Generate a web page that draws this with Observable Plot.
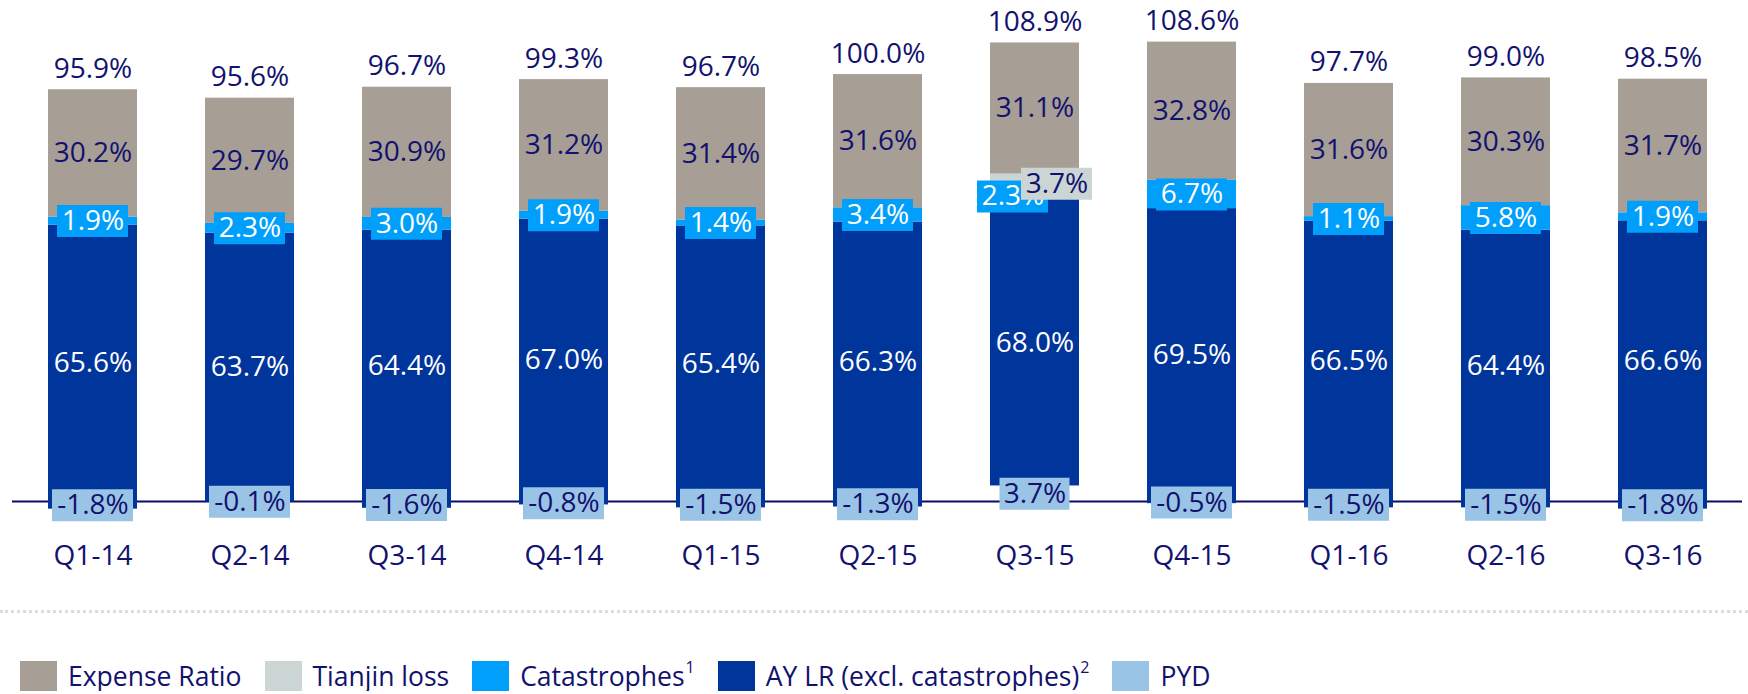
<!DOCTYPE html>
<html><head><meta charset="utf-8">
<script src="https://cdn.jsdelivr.net/npm/d3@7"></script>
<script src="https://cdn.jsdelivr.net/npm/@observablehq/plot@0.6"></script>
<style>
body{margin:0;background:#fff;font-family:"Open Sans",sans-serif;color:#12126e;}
#sep{margin-top:20px;border-top:3px dotted #dcdcdc;height:0;}
#legend{display:flex;align-items:center;margin-top:47px;margin-left:20px;font-size:26.5px;height:31px;}
.item{display:flex;align-items:center;margin-right:23px;white-space:nowrap;}
.sw{width:37px;height:30px;margin-right:11px;}
sup{font-size:16px;vertical-align:top;line-height:1;position:relative;top:1px;margin-left:1px;}
</style></head><body><div id="chart"></div><div id="sep"></div><div id="legend"></div>
<script>
const quarters = ["Q1-14","Q2-14","Q3-14","Q4-14","Q1-15","Q2-15","Q3-15","Q4-15","Q1-16","Q2-16","Q3-16"];
const expenseRatio = [30.2, 29.7, 30.9, 31.2, 31.4, 31.6, 31.1, 32.8, 31.6, 30.3, 31.7];
const tianjinLoss  = [0, 0, 0, 0, 0, 0, 3.7, 0, 0, 0, 0];
const catastrophes = [1.9, 2.3, 3.0, 1.9, 1.4, 3.4, 2.3, 6.7, 1.1, 5.8, 1.9];
const ayLR         = [65.6, 63.7, 64.4, 67.0, 65.4, 66.3, 68.0, 69.5, 66.5, 64.4, 66.6];
const pyd          = [-1.8, -0.1, -1.6, -0.8, -1.5, -1.3, 3.7, -0.5, -1.5, -1.5, -1.8];
const combinedRatio = [95.9, 95.6, 96.7, 99.3, 96.7, 100.0, 108.9, 108.6, 97.7, 99.0, 98.5];

const navy = "#12126e";
const colors = {expense:"#a79e95", tianjin:"#cad5d4", cat:"#009ffc", ay:"#00359c", pyd:"#9ac4e6"};
const FS = 28;

// stacking order bottom -> top
const series = [
  {key:"pyd", values:pyd},
  {key:"ay", values:ayLR},
  {key:"cat", values:catastrophes},
  {key:"tianjin", values:tianjinLoss},
  {key:"expense", values:expenseRatio}
];

const segments = [];
const tops = [];
quarters.forEach((q, i) => {
  let pos = 0, neg = 0;
  for (const s of series) {
    const v = s.values[i];
    let y1, y2;
    if (v >= 0) { y1 = pos; y2 = pos + v; pos = y2; } else { y1 = neg; y2 = neg + v; neg = y2; }
    segments.push({q, key:s.key, value:v, y1, y2, mid:(y1 + y2) / 2, hasTianjin: tianjinLoss[i] > 0});
  }
  tops.push({q, top:pos, total:combinedRatio[i]});
});

const fmt = v => v.toFixed(1) + "%";
const bars = segments.filter(d => !(d.key === "pyd" && d.value >= 0));
const fillOf = d => d.key === "pyd" ? colors.ay : colors[d.key];
const seg = k => segments.filter(d => d.key === k);
const catPlain = seg("cat").filter(d => !d.hasTianjin);
const catShift = seg("cat").filter(d => d.hasTianjin);
const tianjinLab = seg("tianjin").filter(d => d.value > 0);
const pydNeg = seg("pyd").filter(d => d.value < 0);
const pydPos = seg("pyd").filter(d => d.value >= 0);

const chart = Plot.plot({
  width:1748, height:590,
  marginTop:37.4, marginBottom:46.8, marginLeft:12, marginRight:6,
  style:{fontFamily:'"Open Sans", sans-serif', fontSize:FS + "px", color:navy, background:"white", overflow:"visible"},
  x:{domain:quarters, paddingInner:0.4356, paddingOuter:0.2029, label:null, tickSize:0, tickPadding:1},
  y:{domain:[-10, 110], axis:null},
  color:{type:"identity"},
  marks:[
    Plot.ruleY([0], {stroke:"#0b0b66", strokeWidth:2}),
    Plot.barY(bars, {x:"q", y1:"y1", y2:"y2", fill:fillOf}),
    // expense & AY LR labels
    Plot.text(seg("expense"), {x:"q", y:"mid", text:d => fmt(d.value), fill:navy, fontSize:FS}),
    Plot.text(seg("ay"), {x:"q", y:"mid", text:d => fmt(d.value), fill:"white", fontSize:FS}),
    // catastrophe label boxes
    Plot.tickY(catPlain, {x:"q", y:"mid", stroke:colors.cat, strokeWidth:32, insetLeft:9, insetRight:9}),
    Plot.text(catPlain, {x:"q", y:"mid", text:d => fmt(d.value), fill:"white", fontSize:FS}),
    Plot.tickY(catShift, {x:"q", y:"mid", stroke:colors.cat, strokeWidth:32, insetLeft:9, insetRight:9, dx:-22, dy:2}),
    Plot.text(catShift, {x:"q", y:"mid", text:d => fmt(d.value), fill:"white", fontSize:FS, dx:-22, dy:2}),
    // Tianjin label box
    Plot.tickY(tianjinLab, {x:"q", y:"mid", stroke:colors.tianjin, strokeWidth:32, insetLeft:9, insetRight:9, dx:22, dy:2}),
    Plot.text(tianjinLab, {x:"q", y:"mid", text:d => fmt(d.value), fill:navy, fontSize:FS, dx:22, dy:2}),
    // PYD label boxes
    Plot.tickY(pydNeg, {x:"q", y:"mid", stroke:colors.pyd, strokeWidth:32, insetLeft:4, insetRight:4}),
    Plot.text(pydNeg, {x:"q", y:"mid", text:d => fmt(d.value), fill:navy, fontSize:FS}),
    Plot.tickY(pydPos, {x:"q", y:"mid", stroke:colors.pyd, strokeWidth:32, insetLeft:9.5, insetRight:9.5}),
    Plot.text(pydPos, {x:"q", y:"mid", text:d => fmt(d.value), fill:navy, fontSize:FS}),
    // totals
    Plot.text(tops, {x:"q", y:"top", text:d => fmt(d.total), fill:navy, fontSize:FS, dy:-21})
  ]
});
document.getElementById("chart").appendChild(chart);

const legendItems = [
  {label:"Expense Ratio", color:colors.expense, sup:""},
  {label:"Tianjin loss", color:colors.tianjin, sup:""},
  {label:"Catastrophes", color:colors.cat, sup:"1"},
  {label:"AY LR (excl. catastrophes)", color:colors.ay, sup:"2"},
  {label:"PYD", color:colors.pyd, sup:""}
];
const legend = document.getElementById("legend");
for (const it of legendItems) {
  const d = document.createElement("div");
  d.className = "item";
  d.innerHTML = `<span class="sw" style="background:${it.color}"></span><span>${it.label}${it.sup ? `<sup>${it.sup}</sup>` : ""}</span>`;
  legend.appendChild(d);
}
</script>
</body></html>
